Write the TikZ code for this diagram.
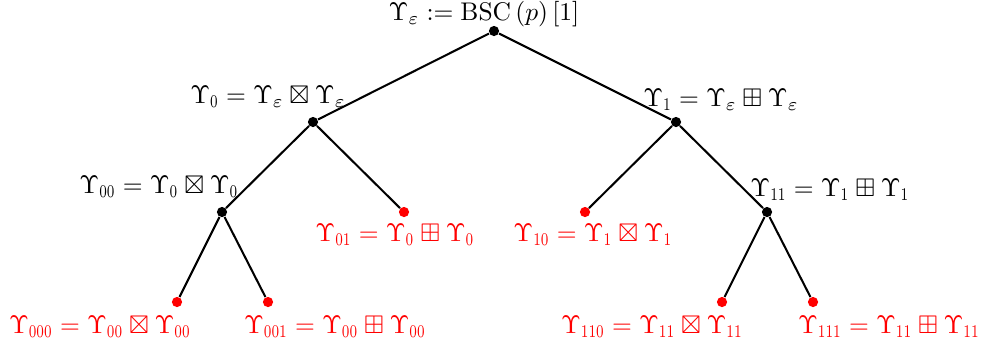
\documentclass[tikz,border=0pt]{standalone}
\usepackage{amsmath,amssymb,graphicx}
\newcommand{\Us}[1]{\Upsilon_{\scalebox{0.75}[1]{$\scriptstyle #1$}}}
\begin{document}
\begin{tikzpicture}[x=0.392pt,y=-0.392pt,
  edge/.style={line width=0.8pt},
  inner/.style={circle,fill=black,inner sep=0pt,minimum size=4pt},
  leaf/.style={circle,fill=red,inner sep=0pt,minimum size=4pt},
  lbl/.style={inner sep=0pt,anchor=center},
  rlbl/.style={inner sep=0pt,anchor=center,text=red}]
\useasboundingbox (0,0) rectangle (981,347);
\node[inner] (r) at (494,31) {};
\node[inner] (n0) at (313,122) {};
\node[inner] (n1) at (676,122) {};
\node[inner] (n00) at (222,212) {};
\node[leaf] (n01) at (404,212) {};
\node[leaf] (n10) at (585,212) {};
\node[inner] (n11) at (767,212) {};
\node[leaf] (n000) at (177,302) {};
\node[leaf] (n001) at (268,302) {};
\node[leaf] (n110) at (722,302) {};
\node[leaf] (n111) at (813,302) {};
\draw[edge] (r) -- (n0);
\draw[edge] (r) -- (n1);
\draw[edge] (n0) -- (n00);
\draw[edge] (n0) -- (n01);
\draw[edge] (n1) -- (n10);
\draw[edge] (n1) -- (n11);
\draw[edge] (n00) -- (n000);
\draw[edge] (n00) -- (n001);
\draw[edge] (n11) -- (n110);
\draw[edge] (n11) -- (n111);
\node[lbl] (lr) at (484,14) {$\Upsilon_\varepsilon := \mathrm{BSC}\left(p\right)\left[1\right]$};
\node[lbl] (l0) at (268,97) {$\Us{0} = \Upsilon_\varepsilon \boxtimes \Upsilon_\varepsilon$};
\node[lbl] (l1) at (721,100) {$\Us{1} = \Upsilon_\varepsilon \boxplus \Upsilon_\varepsilon$};
\node[lbl] (l00) at (159,187) {$\Us{00} = \Us{0} \boxtimes \Us{0}$};
\node[lbl] (l11) at (830,190) {$\Us{11} = \Us{1} \boxplus \Us{1}$};
\node[rlbl] (l01) at (395,235) {$\Us{01} = \Us{0} \boxplus \Us{0}$};
\node[rlbl] (l10) at (593,235) {$\Us{10} = \Us{1} \boxtimes \Us{1}$};
\node[rlbl] (l000) at (100,327) {$\Us{000} = \Us{00} \boxtimes \Us{00}$};
\node[rlbl] (l001) at (335,327) {$\Us{001} = \Us{00} \boxplus \Us{00}$};
\node[rlbl] (l110) at (652,327) {$\Us{110} = \Us{11} \boxtimes \Us{11}$};
\node[rlbl] (l111) at (889,327) {$\Us{111} = \Us{11} \boxplus \Us{11}$};
\end{tikzpicture}
\end{document}
